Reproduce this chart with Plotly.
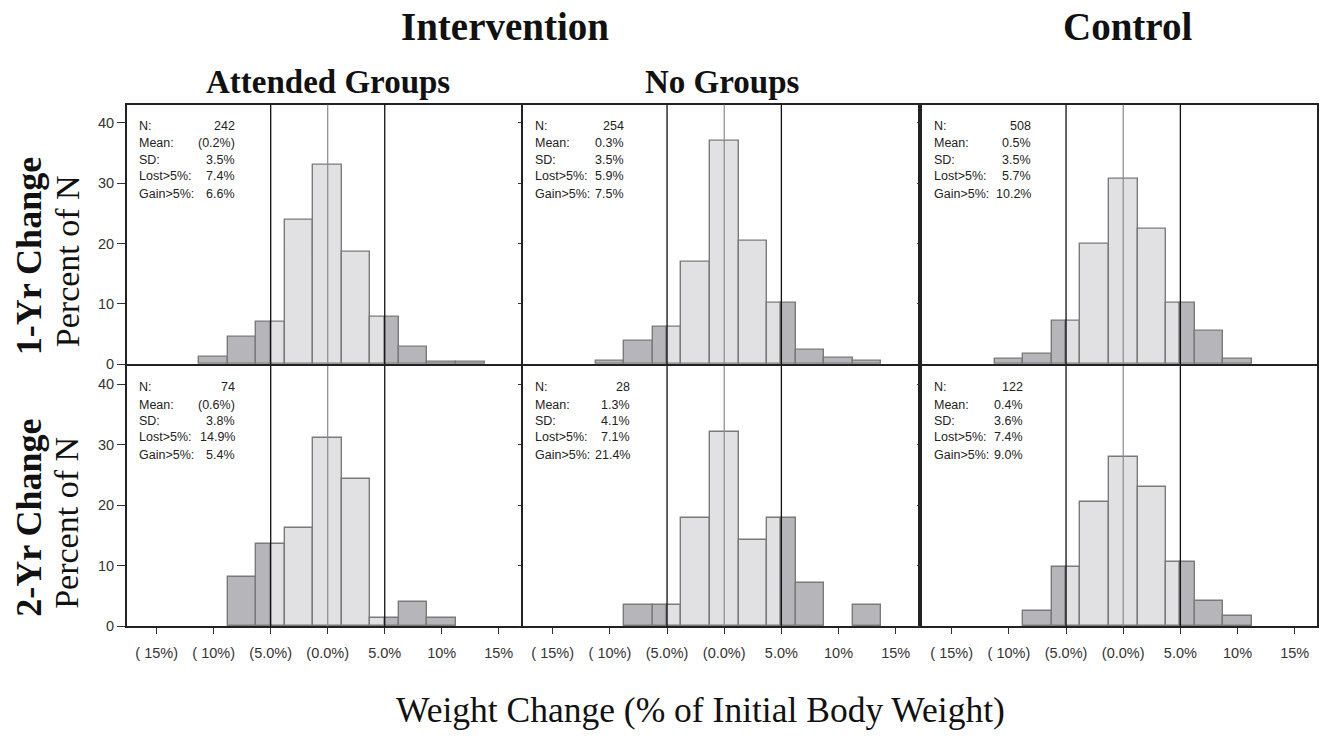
import plotly.graph_objects as go

# ---------------- data ----------------
bin_centers = [-10, -7.5, -5, -2.5, 0, 2.5, 5, 7.5, 10, 12.5]   # % weight change (bin width 2.5)

pct_attended_1yr = [1.2, 4.5, 7.0, 24.0, 33.1, 18.6, 7.9, 2.8, 0.4, 0.4]
pct_nogroups_1yr = [0.6, 3.9, 6.2, 16.9, 37.0, 20.5, 10.2, 2.3, 1.0, 0.6]
pct_control_1yr  = [0.9, 1.7, 7.2, 20.0, 30.7, 22.5, 10.2, 5.5, 0.9, 0.0]
pct_attended_2yr = [0.0, 8.1, 13.5, 16.2, 31.1, 24.3, 1.35, 4.05, 1.35, 0.0]
pct_nogroups_2yr = [0.0, 3.57, 3.57, 17.9, 32.1, 14.3, 17.9, 7.14, 0.0, 3.57]
pct_control_2yr  = [0.0, 2.46, 9.84, 20.5, 27.9, 22.95, 10.66, 4.1, 1.64, 0.0]

stat_labels = ["N:", "Mean:", "SD:", "Lost>5%:", "Gain>5%:"]
stats_attended_1yr = ["242", "(0.2%)", "3.5%", "7.4%", "6.6%"]
stats_nogroups_1yr = ["254", "0.3%", "3.5%", "5.9%", "7.5%"]
stats_control_1yr  = ["508", "0.5%", "3.5%", "5.7%", "10.2%"]
stats_attended_2yr = ["74", "(0.6%)", "3.8%", "14.9%", "5.4%"]
stats_nogroups_2yr = ["28", "1.3%", "4.1%", "7.1%", "21.4%"]
stats_control_2yr  = ["122", "0.4%", "3.6%", "7.4%", "9.0%"]

x_tick_vals = [-15, -10, -5, 0, 5, 10, 15]
x_tick_text = ["( 15%)", "( 10%)", "(5.0%)", "(0.0%)", "5.0%", "10%", "15%"]
y_tick_vals = [0, 10, 20, 30, 40]

col_titles = ["Attended Groups", "No Groups"]
group_titles = ["Intervention", "Control"]
row_titles = ["1-Yr Change", "2-Yr Change"]
y_title = "Percent of N"
x_title = "Weight Change (% of Initial Body Weight)"

# ---------------- style / layout ----------------
W, H = 1331, 741
BIN_W = 2.5
CUT = 5
LIGHT = "#e1e1e3"
DARK = "#b6b6ba"
EDGE = "#7a7a7a"
FRAME = "#222222"
SERIF = "Liberation Serif, Times New Roman, serif"
SANS = "Liberation Sans, Arial, sans-serif"


def px_x(p):
    return p / W


def px_y(p):
    return 1 - p / H


col_px = [(127, 521), (523, 918), (922, 1317)]
row_px = [(106, 368), (370, 633)]
value_right_px = [[110, 103, 111], [110, 109, 103]]
row_offsets_px = [21.5, 39, 55.5, 72, 90]

panels = [
    [pct_attended_1yr, pct_nogroups_1yr, pct_control_1yr],
    [pct_attended_2yr, pct_nogroups_2yr, pct_control_2yr],
]
panel_stats = [
    [stats_attended_1yr, stats_nogroups_1yr, stats_control_1yr],
    [stats_attended_2yr, stats_nogroups_2yr, stats_control_2yr],
]


def segments(centers, values):
    xs, ws, ys, cols = [], [], [], []
    for c, v in zip(centers, values):
        if v <= 0:
            continue
        lo, hi = c - BIN_W / 2, c + BIN_W / 2
        cuts = [lo] + [t for t in (-CUT, CUT) if lo < t < hi] + [hi]
        for a, b in zip(cuts[:-1], cuts[1:]):
            mid = (a + b) / 2
            xs.append(mid)
            ws.append(b - a)
            ys.append(v)
            cols.append(DARK if abs(mid) > CUT else LIGHT)
    return xs, ws, ys, cols


fig = go.Figure()
layout = dict(
    width=W, height=H, margin=dict(l=0, r=0, t=0, b=0),
    paper_bgcolor="white", plot_bgcolor="white",
    showlegend=False, barmode="overlay", bargap=0,
)
shapes, annotations = [], []

k = 0
for r in range(2):
    for c in range(3):
        k += 1
        xa = "x" if k == 1 else f"x{k}"
        ya = "y" if k == 1 else f"y{k}"
        xs, ws, ys, cols = segments(bin_centers, panels[r][c])
        fig.add_trace(go.Bar(
            x=xs, y=ys, width=ws,
            marker=dict(color=cols, line=dict(color=EDGE, width=1.4)),
            xaxis=xa, yaxis=ya, hoverinfo="x+y",
        ))
        x0p, x1p = col_px[c]
        y0p, y1p = row_px[r]
        layout["xaxis" if k == 1 else f"xaxis{k}"] = dict(
            domain=[px_x(x0p), px_x(x1p)], range=[-17.6, 16.95],
            anchor=ya, showgrid=False, zeroline=False,
            showline=True, mirror=True, linecolor=FRAME, linewidth=2,
            tickmode="array", tickvals=x_tick_vals,
            ticktext=x_tick_text if r == 1 else [""] * len(x_tick_vals),
            ticks="outside" if r == 1 else "", ticklen=6, tickcolor="#333",
            ticklabelstandoff=6,
            tickfont=dict(family=SANS, size=14.5, color="#333"),
        )
        layout["yaxis" if k == 1 else f"yaxis{k}"] = dict(
            domain=[px_y(y1p), px_y(y0p)], range=[0, 43],
            anchor=xa, showgrid=False, zeroline=False,
            showline=True, mirror=True, linecolor=FRAME, linewidth=2,
            tickmode="array", tickvals=y_tick_vals,
            showticklabels=(c == 0),
            ticks="outside", ticklen=8 if c == 0 else 3, tickcolor="#333",
            tickfont=dict(family=SANS, size=14.5, color="#333"),
        )
        # reference lines
        for xv, colr, wd in ((-CUT, "#111", 1.3), (CUT, "#111", 1.3), (0, "#8a8a8a", 1.2)):
            shapes.append(dict(type="line", xref=xa, yref=f"{ya} domain",
                               x0=xv, x1=xv, y0=0, y1=1, layer="above",
                               line=dict(color=colr, width=wd)))
        # stats text
        pw = x1p - x0p
        ph = y1p - y0p
        for i, (lab, val) in enumerate(zip(stat_labels, panel_stats[r][c])):
            yd = 1 - row_offsets_px[i] / ph
            annotations.append(dict(
                xref=f"{xa} domain", yref=f"{ya} domain", x=10 / pw, y=yd,
                text=lab, showarrow=False, xanchor="left", yanchor="middle",
                font=dict(family=SANS, size=12.5, color="#222")))
            annotations.append(dict(
                xref=f"{xa} domain", yref=f"{ya} domain",
                x=value_right_px[r][c] / pw, y=yd,
                text=val, showarrow=False, xanchor="right", yanchor="middle",
                font=dict(family=SANS, size=12.5, color="#222")))

# titles
title_specs = [
    (group_titles[0], 505, 27, 39, True),
    (group_titles[1], 1127, 27, 39, True),
    (col_titles[0], 328, 83, 33, True),
    (col_titles[1], 722, 83, 33, True),
    (x_title, 700, 718, 35.5, False),
]
for txt, xp, yp, sz, bold in title_specs:
    annotations.append(dict(
        xref="paper", yref="paper", x=px_x(xp), y=px_y(yp),
        text=f"<b>{txt}</b>" if bold else txt, showarrow=False,
        xanchor="center", yanchor="middle",
        font=dict(family=SERIF, size=sz, color="#111")))

for r in range(2):
    yc = (row_px[r][0] + row_px[r][1]) / 2
    annotations.append(dict(
        xref="paper", yref="paper", x=px_x(29), y=px_y(yc + 22),
        text=f"<b>{row_titles[r]}</b>", showarrow=False, textangle=-90,
        xanchor="center", yanchor="middle",
        font=dict(family=SERIF, size=36, color="#111")))
    annotations.append(dict(
        xref="paper", yref="paper", x=px_x(67), y=px_y(yc + 27),
        text=y_title, showarrow=False, textangle=-90,
        xanchor="center", yanchor="middle",
        font=dict(family=SERIF, size=34, color="#111")))

layout["shapes"] = shapes
layout["annotations"] = annotations
fig.update_layout(**layout)
# remove the page's default body margin so the figure fills the window exactly
fig.write_html("out.html",
               config={"displayModeBar": False},
               post_script="document.body.style.margin='0';document.body.style.overflow='hidden';")
